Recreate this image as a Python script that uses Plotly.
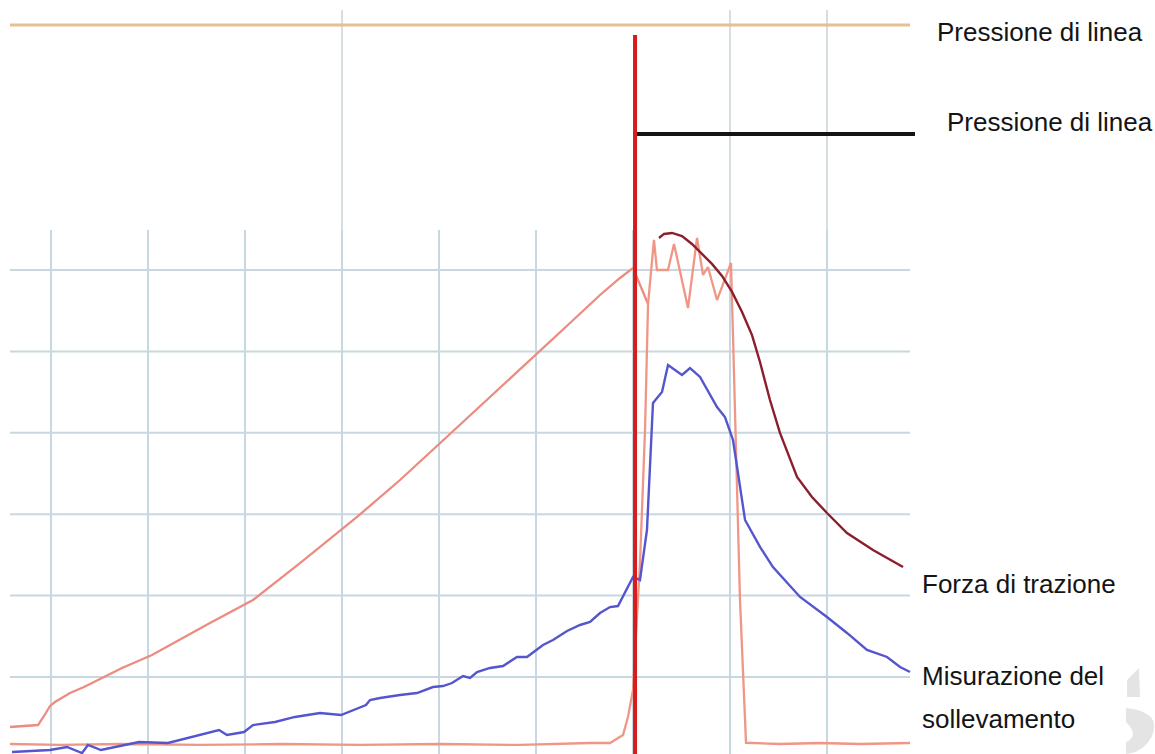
import plotly.graph_objects as go

# ---- data (time units = grid columns, value units = grid rows) ----
diag_x = [-0.423, -0.216, -0.134, -0.072, -0.010, 0.041, 0.196, 0.340, 0.505, 0.732, 1.041, 1.299,
          1.639, 2.082, 2.567, 3.155, 3.598, 4.113, 4.629, 5.0, 5.351, 5.660, 5.866, 6.0, 6.155]
diag_y = [0.386, 0.398, 0.410, 0.521, 0.644, 0.693, 0.803, 0.877, 0.975, 1.111, 1.270, 1.442,
          1.663, 1.946, 2.400, 2.966, 3.420, 3.985, 4.550, 4.956, 5.349, 5.693, 5.902, 6.025, 5.582]

base_x = [-0.423, 0.093, 0.711, 1.536, 2.361, 3.186, 4.010, 4.835, 5.557, 5.763, 5.897, 5.948, 6.0,
          6.072, 6.124, 6.155, 6.216, 6.247, 6.361, 6.423, 6.567, 6.660, 6.722, 6.773, 6.866, 7.010,
          7.031, 7.103, 7.165, 7.515, 7.928, 8.340, 8.856]
base_y = [0.177, 0.165, 0.177, 0.165, 0.177, 0.165, 0.177, 0.165, 0.189, 0.189, 0.287, 0.509, 0.840,
          2.400, 4.034, 5.582, 6.369, 6.000, 6.000, 6.320, 5.533, 6.393, 5.939, 6.037, 5.631, 6.086,
          5.189, 1.946, 0.192, 0.177, 0.189, 0.177, 0.189]

force_x = [6.268, 6.320, 6.402, 6.505, 6.608, 6.711, 6.814, 6.918, 7.021, 7.124, 7.227, 7.309, 7.412,
           7.515, 7.619, 7.691, 7.845, 8.0, 8.206, 8.474, 8.784]
force_y = [6.393, 6.443, 6.455, 6.418, 6.320, 6.197, 6.075, 5.927, 5.731, 5.484, 5.201, 4.870, 4.403,
           3.998, 3.690, 3.457, 3.211, 3.015, 2.769, 2.560, 2.351]

lift_x = [-0.402, -0.216, -0.010, 0.165, 0.320, 0.381, 0.515, 0.711, 0.907, 1.206, 1.515, 1.732, 1.814,
          1.990, 2.082, 2.309, 2.515, 2.773, 2.990, 3.247, 3.289,
          3.392, 3.598, 3.773, 3.938, 4.041, 4.134, 4.247, 4.320, 4.392, 4.526, 4.660, 4.804, 4.907,
          5.072, 5.175, 5.320, 5.454, 5.557, 5.660, 5.763, 5.845, 6.0,
          6.072, 6.144, 6.206, 6.299, 6.361, 6.505, 6.588, 6.691, 6.866, 6.948, 7.031, 7.155, 7.309,
          7.443, 7.722, 8.0, 8.206, 8.412, 8.619, 8.753, 8.856]
lift_y = [0.079, 0.091, 0.103, 0.140, 0.066, 0.165, 0.103, 0.152, 0.201, 0.189, 0.287, 0.349, 0.287,
          0.324, 0.410, 0.447, 0.509, 0.558, 0.533, 0.656, 0.717,
          0.742, 0.779, 0.803, 0.877, 0.889, 0.926, 1.012, 0.988, 1.061, 1.111, 1.135, 1.246, 1.246,
          1.393, 1.455, 1.565, 1.639, 1.676, 1.786, 1.859, 1.872, 2.229,
          2.192, 2.806, 4.366, 4.501, 4.833, 4.710, 4.796, 4.686, 4.317, 4.194, 3.912, 2.929, 2.598,
          2.351, 1.983, 1.737, 1.541, 1.332, 1.246, 1.123, 1.061]

# reference levels
line_pressure_top = 9.01
line_pressure_low = 7.67
event_time = 6.021
event_top = 8.887
series_start, series_end = -0.423, 8.856
black_end = 8.907

grid_cols = [0, 1, 2, 3, 4, 5, 6, 7, 8]
grid_rows = [1, 2, 3, 4, 5, 6]
upper_cols = [3, 7, 8]
grid_top = 6.492
upper_top = 9.194

labels = ["Pressione di linea", "Pressione di linea", "Forza di trazione",
          "Misurazione del", "sollevamento"]
label_x = [9.113, 9.216, 8.959, 8.959, 8.959]
label_y = [8.924, 7.818, 2.143, 1.012, 0.484]

X_RANGE = [-0.5258, 11.3814]
Y_RANGE = [0.054, 9.317]

W, H = 1155, 754

fig = go.Figure()

shapes = []
for c in grid_cols:
    shapes.append(dict(type="line", xref="x", yref="y", x0=c, x1=c, y0=Y_RANGE[0], y1=grid_top,
                       line=dict(color="rgb(200,216,224)", width=2), layer="below"))
for r in grid_rows:
    shapes.append(dict(type="line", xref="x", yref="y", x0=series_start, x1=series_end, y0=r, y1=r,
                       line=dict(color="rgb(200,216,224)", width=2), layer="below"))
for c in upper_cols:
    shapes.append(dict(type="line", xref="x", yref="y", x0=c, x1=c, y0=grid_top, y1=upper_top,
                       line=dict(color="rgb(214,222,226)", width=2), layer="below"))


# faint watermark fragments at the lower right corner (decoration, paper coords)
def P(px, py):
    return f"{px / W:.4f},{1 - py / H:.4f}"


wm1 = f"M{P(1127, 680)} L{P(1139, 668)} L{P(1140, 697)} L{P(1127, 697)} Z"
wm2 = (f"M{P(1126, 708)} Q{P(1162, 712)} {P(1152, 736)} Q{P(1144, 752)} {P(1126, 754)} "
       f"L{P(1126, 742)} Q{P(1140, 736)} {P(1126, 722)} Z")
for pth in (wm1, wm2):
    shapes.append(dict(type="path", xref="paper", yref="paper", path=pth,
                       fillcolor="rgb(228,228,228)", line=dict(width=0), layer="below"))

fig.add_trace(go.Scatter(x=[series_start, series_end], y=[line_pressure_top] * 2, mode="lines",
                         line=dict(color="rgb(228,192,148)", width=3), hoverinfo="skip"))
fig.add_trace(go.Scatter(x=diag_x, y=diag_y, mode="lines",
                         line=dict(color="rgb(236,140,128)", width=2.3), hoverinfo="skip"))
fig.add_trace(go.Scatter(x=base_x, y=base_y, mode="lines",
                         line=dict(color="rgb(240,150,135)", width=2.3), hoverinfo="skip"))
fig.add_trace(go.Scatter(x=force_x, y=force_y, mode="lines",
                         line=dict(color="rgb(140,30,45)", width=2.4), hoverinfo="skip"))
fig.add_trace(go.Scatter(x=lift_x, y=lift_y, mode="lines",
                         line=dict(color="rgb(85,85,205)", width=2.4), hoverinfo="skip"))
fig.add_trace(go.Scatter(x=[event_time, black_end], y=[line_pressure_low] * 2, mode="lines",
                         line=dict(color="rgb(20,20,20)", width=4), hoverinfo="skip"))
fig.add_trace(go.Scatter(x=[event_time, event_time], y=[Y_RANGE[0], event_top], mode="lines",
                         line=dict(color="rgb(214,28,28)", width=4), hoverinfo="skip"))

for t, x, y in zip(labels, label_x, label_y):
    fig.add_annotation(x=x, y=y, xref="x", yref="y", text=t, showarrow=False, xanchor="left",
                       yanchor="middle", font=dict(family="Liberation Sans, Arial", size=26,
                                                   color="rgb(20,20,20)"))

fig.update_layout(
    width=W, height=H, margin=dict(l=0, r=0, t=0, b=0),
    paper_bgcolor="white", plot_bgcolor="white", showlegend=False, shapes=shapes,
    xaxis=dict(range=X_RANGE, visible=False, showgrid=False, zeroline=False, fixedrange=True),
    yaxis=dict(range=Y_RANGE, visible=False, showgrid=False, zeroline=False, fixedrange=True),
)

fig.write_html("out.html", config={"displayModeBar": False},
               post_script="document.body.style.margin='0';document.body.style.overflow='hidden';")
